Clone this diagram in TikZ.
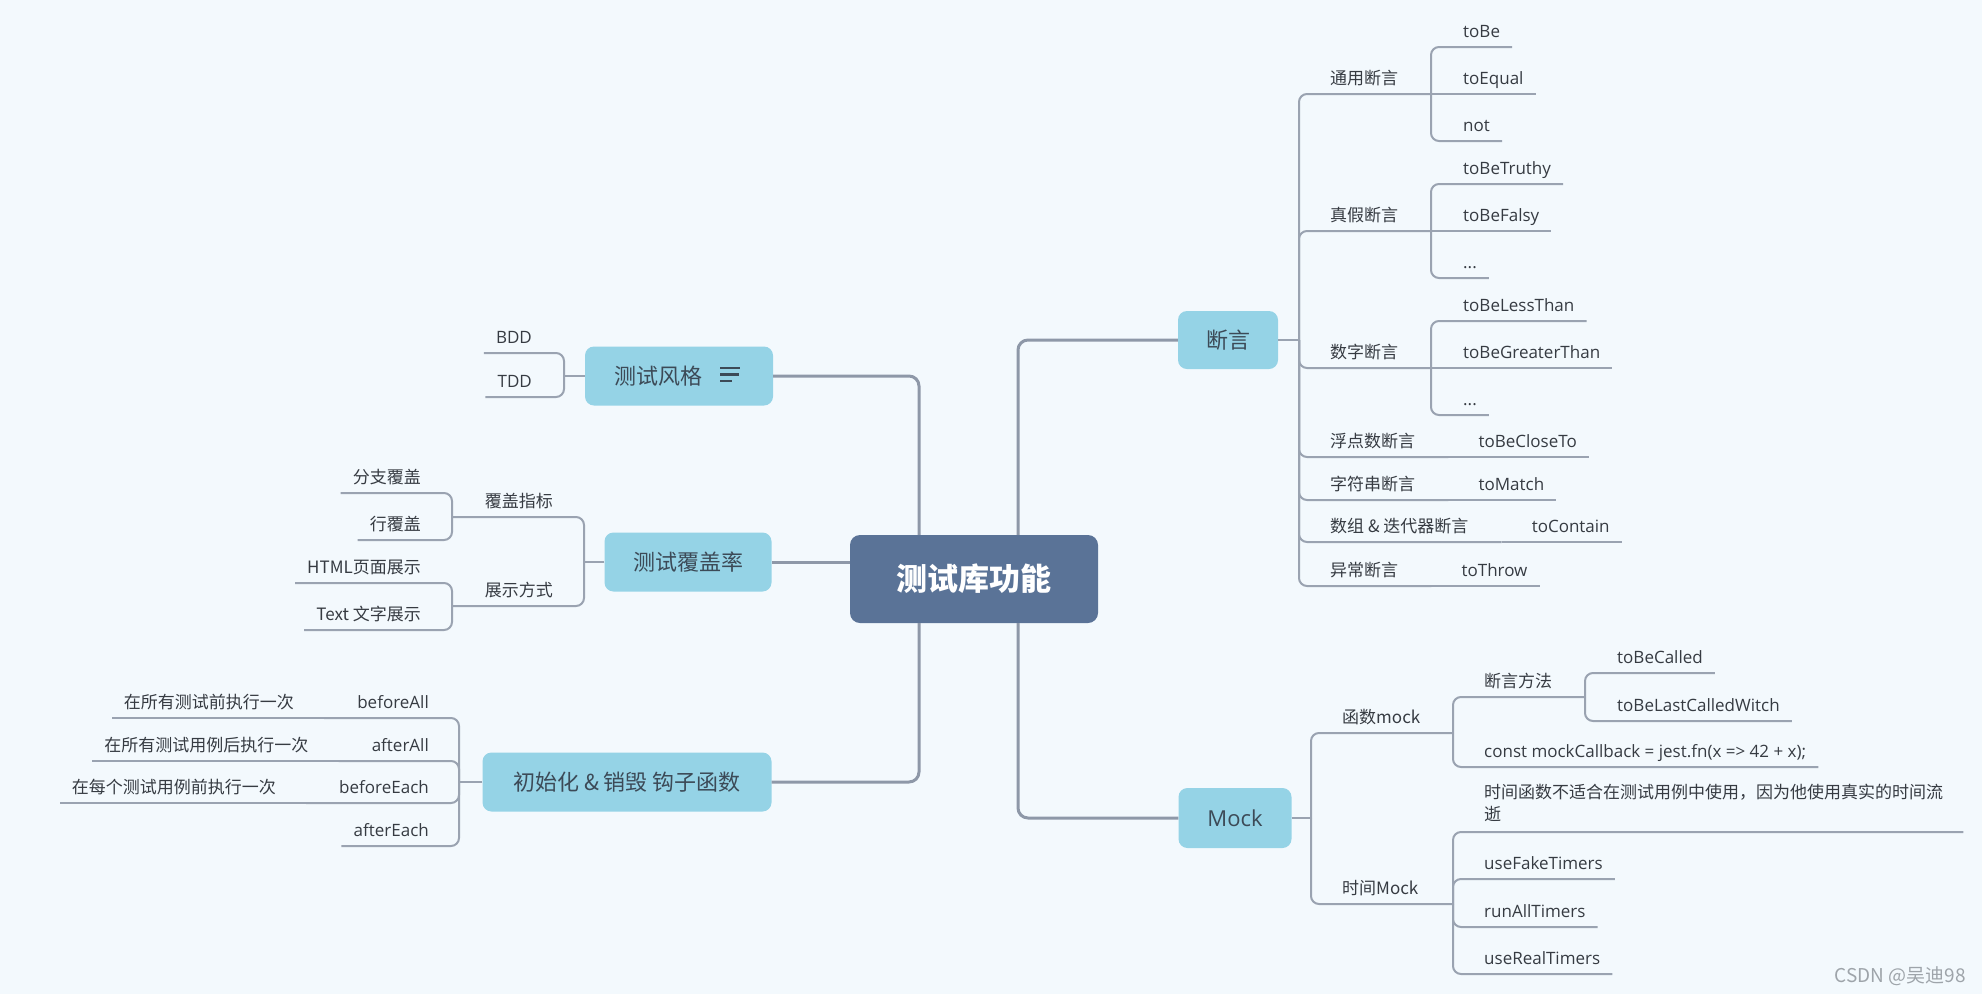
\documentclass[tikz,border=0pt]{standalone}
\usepackage{fontspec}
\setmainfont{Open Sans}
\newfontfamily\cjk{Noto Sans CJK SC}
\usetikzlibrary{calc}
\definecolor{bgc}{HTML}{F3F9FD}
\definecolor{boxc}{HTML}{95D3E6}
\definecolor{rootc}{HTML}{5A7397}
\definecolor{linec}{HTML}{8E98A8}
\definecolor{linkc}{HTML}{9AA3B1}
\definecolor{txtc}{HTML}{363B42}
\definecolor{btxt}{HTML}{3C4A57}
\definecolor{wmc}{HTML}{9EA4AA}
\tikzset{
  trunk/.style={draw=linec, line width=3pt, rounded corners=10pt},
  link/.style={draw=linkc, line width=2pt, rounded corners=8pt},
  branchbox/.style={fill=boxc, rounded corners=9pt, text=btxt, font=\cjk\fontsize{22}{26}\selectfont, inner sep=0pt},
  rtxt/.style={anchor=base west, inner sep=0pt, text=txtc, font=\fontsize{17}{21}\selectfont},
  ltxt/.style={anchor=base east, inner sep=0pt, text=txtc, font=\fontsize{17}{21}\selectfont},
  zh/.style={font=\cjk\fontsize{17}{21}\selectfont},
}
\begin{document}
\begin{tikzpicture}[x=1pt,y=-1pt]
\path[use as bounding box, fill=bgc] (0,0) rectangle (1982,994);

% root and main branches
\node[fill=rootc, rounded corners=10pt, minimum width=248pt, minimum height=88pt, inner sep=0pt,
      text=white, font=\cjk\bfseries\fontsize{31}{36}\selectfont] (root) at (974,579) {测试库功能};
\coordinate (tl) at (919,0);
\coordinate (tr) at (1018,0);

\node[branchbox, minimum width=188pt, minimum height=59pt] (fg) at (679,376) {\makebox[130pt][l]{测试风格}};
\draw[draw=btxt, line width=2.2pt] (720,368) -- (740,368) (720,374.5) -- (739,374.5) (720,381) -- (732,381);
\node[branchbox, minimum width=167pt, minimum height=59pt] (cov) at (688,562) {测试覆盖率};
\node[branchbox, minimum width=289pt, minimum height=59pt] (hook) at (627,782) {初始化 \& 销毁 钩子函数};
\node[branchbox, minimum width=100pt, minimum height=58pt] (dy) at (1228,340) {断言};
\node[branchbox, minimum width=113pt, minimum height=60pt, font=\fontsize{22}{26}\selectfont] (mock) at (1235,818) {Mock};

\draw[trunk] (root.north -| tl) |- (fg.east);
\draw[trunk] (root.west |- cov.east) -- (cov.east);
\draw[trunk] (root.south -| tl) |- (hook.east);
\draw[trunk] (root.north -| tr) |- (dy.west);
\draw[trunk] (root.south -| tr) |- (mock.west);

% ---------- 测试风格
\coordinate (bfg) at (564,376);
\draw[link] (fg.west) -- (bfg);
\node[ltxt] (bdd) at (532,343) {BDD};
\node[ltxt] (tdd) at (532,387) {TDD};
\draw[link] (bfg) |- ($(bdd.base west)+(-12,10)$);
\draw[link] (bfg) |- ($(tdd.base west)+(-12,10)$);

% ---------- 测试覆盖率
\coordinate (bcov) at (584,562);
\draw[link] (cov.west) -- (bcov);
\node[ltxt, zh] (fgzb) at (553,507) {覆盖指标};
\node[ltxt, zh] (zsfs) at (553,596) {展示方式};
\coordinate (sfgzb) at (452,517);
\coordinate (szsfs) at (452,606);
\draw[link] (bcov) |- (sfgzb);
\draw[link] (bcov) |- (szsfs);
\node[ltxt, zh] (fzfg) at (421,483) {分支覆盖};
\node[ltxt, zh] (hfg) at (421,530) {行覆盖};
\draw[link] (sfgzb) |- ($(fzfg.base west)+(-12,10)$);
\draw[link] (sfgzb) |- ($(hfg.base west)+(-12,10)$);
\node[ltxt, zh] (html) at (421,573) {HTML页面展示};
\node[ltxt, zh] (txtzs) at (421,620) {Text 文字展示};
\draw[link] (szsfs) |- ($(html.base west)+(-12,10)$);
\draw[link] (szsfs) |- ($(txtzs.base west)+(-12,10)$);

% ---------- 钩子函数
\coordinate (bhook) at (459,782);
\draw[link] (hook.west) -- (bhook);
\node[ltxt] (ba) at (429,708) {beforeAll};
\coordinate (sba) at ($(ba.base west)+(-33,10)$);
\draw[link] (bhook) |- (sba);
\node[ltxt, zh] (baD) at ($(sba)+(-30,-10)$) {在所有测试前执行一次};
\draw[link] (sba) -- ($(baD.base west)+(-12,10)$);

\node[ltxt] (aa) at (429,751) {afterAll};
\coordinate (saa) at ($(aa.base west)+(-33,10)$);
\draw[link] (bhook) |- (saa);
\node[ltxt, zh] (aaD) at ($(saa)+(-30,-10)$) {在所有测试用例后执行一次};
\draw[link] (saa) -- ($(aaD.base west)+(-12,10)$);

\node[ltxt] (be) at (429,793) {beforeEach};
\coordinate (sbe) at ($(be.base west)+(-33,10)$);
\draw[link] (bhook) |- (sbe);
\node[ltxt, zh] (beD) at ($(sbe)+(-30,-10)$) {在每个测试用例前执行一次};
\draw[link] (sbe) -- ($(beD.base west)+(-12,10)$);

\node[ltxt] (ae) at (429,836) {afterEach};
\draw[link] (bhook) |- ($(ae.base west)+(-12,10)$);

% ---------- 断言
\coordinate (bdy) at (1299,340);
\draw[link] (dy.east) -- (bdy);

\node[rtxt, zh] (tyde) at (1330,84) {通用断言};
\coordinate (styde) at (1431,94);
\draw[link] (bdy) |- (styde);
\node[rtxt] (tobe) at (1463,37) {toBe};
\node[rtxt] (toequal) at (1463,84) {toEqual};
\node[rtxt] (notn) at (1463,131) {not};
\draw[link] (styde) |- ($(tobe.base east)+(12,10)$);
\draw[link] (styde) -- ($(toequal.base east)+(12,10)$);
\draw[link] (styde) |- ($(notn.base east)+(12,10)$);

\node[rtxt, zh] (zjde) at (1330,221) {真假断言};
\coordinate (szjde) at (1431,231);
\draw[link] (bdy) |- (szjde);
\node[rtxt] (truthy) at (1463,174) {toBeTruthy};
\node[rtxt] (falsy) at (1463,221) {toBeFalsy};
\node[rtxt] (dots1) at (1463,268) {...};
\draw[link] (szjde) |- ($(truthy.base east)+(12,10)$);
\draw[link] (szjde) -- ($(falsy.base east)+(12,10)$);
\draw[link] (szjde) |- ($(dots1.base east)+(12,10)$);

\node[rtxt, zh] (szde) at (1330,358) {数字断言};
\coordinate (sszde) at (1431,368);
\draw[link] (bdy) |- (sszde);
\node[rtxt] (less) at (1463,311) {toBeLessThan};
\node[rtxt] (greater) at (1463,358) {toBeGreaterThan};
\node[rtxt] (dots2) at (1463,405) {...};
\draw[link] (sszde) |- ($(less.base east)+(12,10)$);
\draw[link] (sszde) -- ($(greater.base east)+(12,10)$);
\draw[link] (sszde) |- ($(dots2.base east)+(12,10)$);

\node[rtxt, zh] (fdde) at (1330,447) {浮点数断言};
\coordinate (sfdde) at ($(fdde.base east)+(33,10)$);
\draw[link] (bdy) |- (sfdde);
\node[rtxt] (close) at ($(sfdde)+(30,-10)$) {toBeCloseTo};
\draw[link] (sfdde) -- ($(close.base east)+(12,10)$);

\node[rtxt, zh] (zfde) at (1330,490) {字符串断言};
\coordinate (szfde) at ($(zfde.base east)+(33,10)$);
\draw[link] (bdy) |- (szfde);
\node[rtxt] (match) at ($(szfde)+(30,-10)$) {toMatch};
\draw[link] (szfde) -- ($(match.base east)+(12,10)$);

\node[rtxt, zh] (szdd) at (1330,532) {数组 \& 迭代器断言};
\coordinate (sszdd) at ($(szdd.base east)+(33,10)$);
\draw[link] (bdy) |- (sszdd);
\node[rtxt] (contain) at ($(sszdd)+(30,-10)$) {toContain};
\draw[link] (sszdd) -- ($(contain.base east)+(12,10)$);

\node[rtxt, zh] (ycde) at (1330,576) {异常断言};
\coordinate (sycde) at ($(ycde.base east)+(33,10)$);
\draw[link] (bdy) |- (sycde);
\node[rtxt] (throw) at ($(sycde)+(30,-10)$) {toThrow};
\draw[link] (sycde) -- ($(throw.base east)+(12,10)$);

% ---------- Mock
\coordinate (bmock) at (1311,818);
\draw[link] (mock.east) -- (bmock);

\node[rtxt, zh] (hsm) at (1342,723) {函数mock};
\coordinate (shsm) at (1453,733);
\draw[link] (bmock) |- (shsm);
\node[rtxt, zh] (dyff) at (1484,687) {断言方法};
\coordinate (sdyff) at (1585,697);
\draw[link] (shsm) |- (sdyff);
\node[rtxt] (called) at (1617,663) {toBeCalled};
\node[rtxt] (lastcalled) at (1617,711) {toBeLastCalledWitch};
\draw[link] (sdyff) |- ($(called.base east)+(12,10)$);
\draw[link] (sdyff) |- ($(lastcalled.base east)+(12,10)$);
\node[rtxt] (constcb) at (1484,757) {const mockCallback = jest.fn(x => 42 + x);};
\draw[link] (shsm) |- ($(constcb.base east)+(12,10)$);

\node[rtxt, zh] (sjm) at (1342,894) {时间Mock};
\coordinate (ssjm) at (1453,904);
\draw[link] (bmock) |- (ssjm);
\node[anchor=north west, inner sep=0pt, text width=467pt, align=left, text=txtc,
      font=\cjk\fontsize{17}{22}\selectfont] (sjhs) at (1484,784)
      {时间函数不适合在测试用例中使用，因为他使用真实的时间流\\逝};
\draw[link] (ssjm) |- ($(sjhs.north east)+(12,48)$);
\node[rtxt] (fake) at (1484,869) {useFakeTimers};
\node[rtxt] (runall) at (1484,917) {runAllTimers};
\node[rtxt] (real) at (1484,964) {useRealTimers};
\draw[link] (ssjm) |- ($(fake.base east)+(12,10)$);
\draw[link] (ssjm) |- ($(runall.base east)+(12,10)$);
\draw[link] (ssjm) |- ($(real.base east)+(12,10)$);

% watermark
\node[anchor=base east, inner sep=0pt, text=wmc, font=\cjk\fontsize{19}{22}\selectfont] (wm) at (1966,982) {CSDN @吴迪98};
\end{tikzpicture}
\end{document}
